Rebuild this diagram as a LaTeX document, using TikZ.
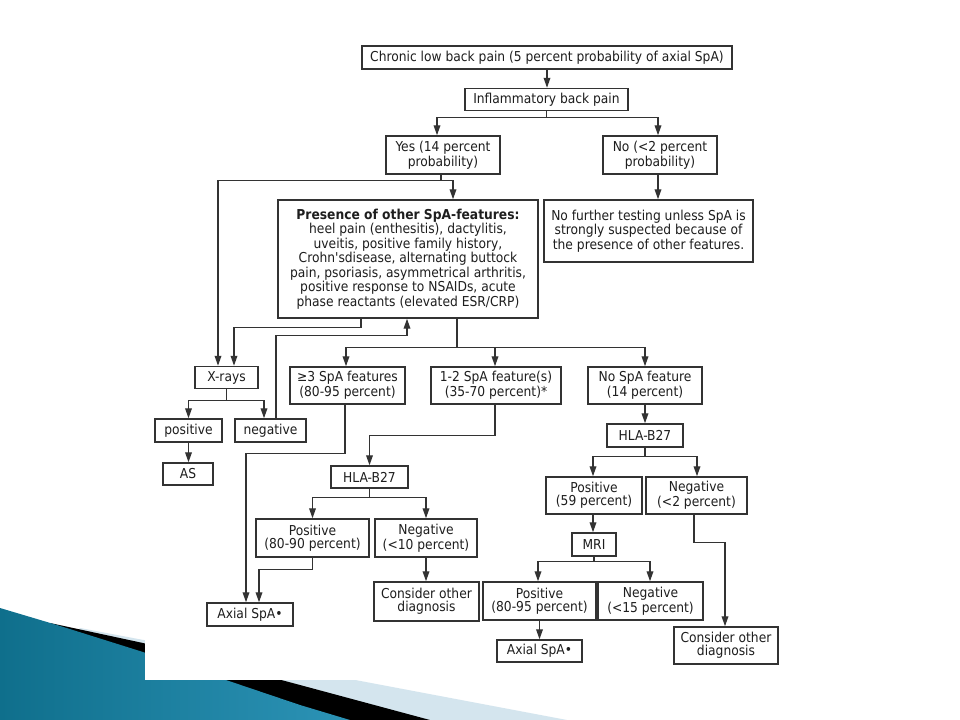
\documentclass[tikz,border=0pt]{standalone}
\usepackage{fontspec}
\setmainfont{DejaVu Sans Condensed}
\usetikzlibrary{arrows.meta,calc}
\definecolor{ink}{HTML}{333333}
\definecolor{txt}{HTML}{1E1E1E}
\definecolor{swlight}{HTML}{D4E5EE}
\definecolor{swdark}{HTML}{0F6F8C}
\definecolor{swmid}{HTML}{52B0D0}
\definecolor{swend}{HTML}{2C93B6}
\tikzset{
  box/.style={draw=ink, line width=1.1pt, fill=white, inner sep=0pt, align=center,
    text=txt, font=\fontsize{10.25}{9.9}\selectfont},
  conn/.style={draw=ink, line width=1pt},
  arr/.style={conn, -{Triangle[length=7.5pt,width=5pt]}}
}
\newcommand{\bx}[6]{\node[box, minimum width=#4*0.75pt, minimum height=#5*0.75pt] (#1) at (#2,#3) {#6};}
\begin{document}
\begin{tikzpicture}[x=0.75pt,y=-0.75pt]
\useasboundingbox (0,0) rectangle (960,720);
\fill[white] (0,0) rectangle (960,720);
% slide swoosh
\fill[swlight] (80,628) -- (567,720) -- (0,720) -- cycle;
\fill[black] (50,623) -- (143,643) -- (300,685) -- (430,720) -- (0,720) -- cycle;
\shade[left color=swdark, middle color=swmid, right color=swend]
  (0,608) -- (57,625) -- (143,652) -- (300,705) -- (350,720) -- (0,720) -- cycle;
\fill[white] (145,0) rectangle (820,680);
% boxes
\bx{chronic}{547}{57.5}{370}{23}{Chronic low back pain (5 percent probability of axial SpA)}
\bx{inflam}{546.5}{99.5}{163}{22}{Inflammatory back pain}
\bx{yes}{443}{155}{114}{38}{Yes (14 percent\\probability)}
\bx{no}{660}{155}{114}{38}{No (<2 percent\\probability)}
\bx{presence}{408}{259}{260}{118}{\textbf{Presence of other SpA-features:}\\heel pain (enthesitis), dactylitis,\\uveitis, positive family history,\\Crohn\textquotesingle sdisease, alternating buttock\\pain, psoriasis, asymmetrical arthritis,\\positive response to NSAIDs, acute\\phase reactants (elevated ESR/CRP)}
\bx{nofurther}{648.5}{231}{209}{62}{No further testing unless SpA is\\strongly suspected because of\\the presence of other features.}
\bx{xrays}{226.5}{377.5}{63}{22}{X-rays}
\bx{ge3}{347.5}{385.5}{115}{37}{≥3 SpA features\\(80-95 percent)}
\bx{onetwo}{496}{385.5}{130}{37}{1-2 SpA feature(s)\\(35-70 percent)*}
\bx{nospa}{645}{385.5}{114}{37}{No SpA feature\\(14 percent)}
\bx{positive}{188.5}{430.5}{67}{23}{positive}
\bx{negative}{270.5}{430.5}{71}{23}{negative}
\bx{as}{188}{474}{50}{22}{AS}
\bx{hlaa}{369.5}{477}{77}{22}{HLA-B27}
\bx{hlab}{645}{435.5}{76}{23}{HLA-B27}
\bx{pos59}{594}{495.5}{96}{37}{Positive\\(59 percent)}
\bx{neg2}{696.5}{495.5}{101}{37}{Negative\\(<2 percent)}
\bx{posa}{312.5}{538}{113}{38}{Positive\\(80-90 percent)}
\bx{nega}{426}{538}{102}{38}{Negative\\(<10 percent)}
\bx{coda}{426.5}{601.5}{105}{39}{Consider other\\diagnosis}
\bx{axa}{250}{614.5}{86}{23}{Axial SpA•}
\bx{mri}{594}{544.5}{44}{23}{MRI}
\bx{posb}{539.5}{601}{113}{38}{Positive\\(80-95 percent)}
\bx{negb}{650.5}{601}{105}{38}{Negative\\(<15 percent)}
\bx{axb}{539.5}{651}{85}{22}{Axial SpA•}
\bx{codb}{726}{645.5}{104}{37}{Consider other\\diagnosis}
% connectors
\draw[arr] (chronic.south) -- (chronic.south |- inflam.north);
\draw[conn] (inflam.south) -- ++(0,6) coordinate (j0);
\draw[arr] (j0) -| ($(yes.north)+(-6,0)$);
\draw[arr] (j0) -| ($(no.north)+(-2,0)$);
\draw[conn] ($(yes.south)+(-2,0)$) -- ++(0,6) coordinate (j1);
\draw[arr] (j1) -| ($(presence.north)+(45,0)$);
\draw[arr] (j1) -| ($(xrays.north)+(-8.5,0)$);
\coordinate (nos) at ($(no.south)+(-2,0)$);
\draw[arr] (nos) -- (nos |- nofurther.north);
\draw[arr] ($(presence.south)+(-47,0)$) -- ++(0,9) -| ($(xrays.north)+(7.5,0)$);
\draw[conn] ($(presence.south)+(49,0)$) -- ++(0,29) coordinate (j2);
\draw[arr] (j2) -| ($(ge3.north)+(-1.5,0)$);
\draw[arr] (j2) -| ($(onetwo.north)+(-1,0)$);
\draw[arr] (j2) -| (nospa.north);
\draw[arr] ($(negative.north)+(5.5,0)$) |- ($(presence.south)+(-1,17)$) -- ($(presence.south)+(-1,0)$);
\draw[conn] (xrays.south) -- ++(0,11) coordinate (j3);
\draw[arr] (j3) -| (positive.north);
\draw[arr] (j3) -| ($(negative.north)+(-6.5,0)$);
\draw[arr] (positive.south) -- (positive.south |- as.north);
\draw[arr] ($(ge3.south)+(-2.5,0)$) -- ++(0,49) -| ($(axa.north)+(-4,0)$);
\draw[arr] ($(onetwo.south)+(-1,0)$) -- ++(0,31) -| (hlaa.north);
\draw[conn] (hlaa.south) -- ++(0,9) coordinate (j4);
\draw[arr] (j4) -| (posa.north);
\draw[arr] (j4) -| (nega.north);
\draw[arr] (posa.south) -- ++(0,12) -| ($(axa.north)+(9,0)$);
\draw[arr] (nega.south) -- (nega.south |- coda.north);
\draw[arr] (nospa.south) -- (hlab.north);
\draw[conn] (hlab.south) -- ++(0,9) coordinate (j5);
\draw[arr] (j5) -| ($(pos59.north)+(-1,0)$);
\draw[arr] (j5) -| ($(neg2.north)+(0.5,0)$);
\coordinate (p59s) at ($(pos59.south)+(-1,0)$);
\draw[arr] (p59s) -- (p59s |- mri.north);
\draw[conn] (mri.south) -- ++(0,5) coordinate (j6);
\draw[arr] (j6) -| ($(posb.north)+(-1.5,0)$);
\draw[arr] (j6) -| ($(negb.north)+(-0.5,0)$);
\draw[arr] (posb.south) -- (posb.south |- axb.north);
\draw[arr] ($(neg2.south)+(-2.5,0)$) -- ++(0,28) -| ($(codb.north)+(-1,0)$);
\end{tikzpicture}
\end{document}
